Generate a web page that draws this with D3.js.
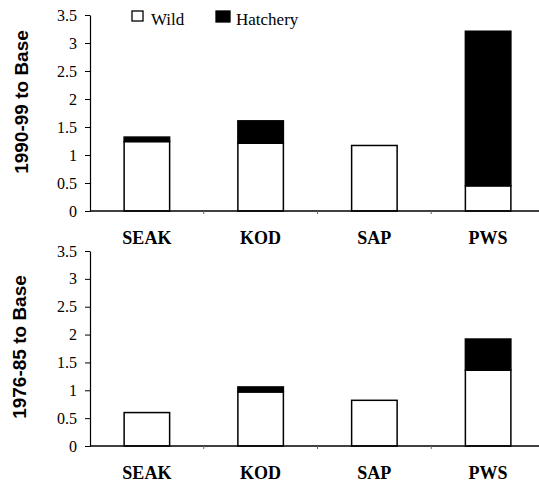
<!DOCTYPE html>
<html>
<head>
<meta charset="utf-8">
<script src="https://cdn.jsdelivr.net/npm/d3@7"></script>
<style>
  body { margin: 0; background: #fff; }
  svg text.serif { font-family: "Liberation Serif", "Times New Roman", Times, serif; }
  svg text.sans { font-family: "Liberation Sans", Arial, Helvetica, sans-serif; }
</style>
</head>
<body>
<div id="main"></div>
<script>
// chart data
const regions = ["SEAK", "KOD", "SAP", "PWS"];
const series = ["Wild", "Hatchery"];
const wild9099 = [1.24, 1.21, 1.17, 0.45];
const hatch9099 = [0.08, 0.40, 0.0, 2.76];
const wild7685 = [0.60, 0.97, 0.82, 1.36];
const hatch7685 = [0.0, 0.09, 0.0, 0.56];
const yTicks = [0, 0.5, 1, 1.5, 2, 2.5, 3, 3.5];

const ctx = {
    w: 539,
    h: 487,
    left: 90,
    right: 545,
    panels: [
        {title: "1990-99 to Base", wild: wild9099, hatch: hatch9099, top: 15, bottom: 211, titleX: 28, titleY: 102},
        {title: "1976-85 to Base", wild: wild7685, hatch: hatch7685, top: 251, bottom: 446, titleX: 26, titleY: 347},
    ],
};

const svg = d3.select("#main").append("svg")
    .attr("width", ctx.w)
    .attr("height", ctx.h);

svg.append("rect").attr("width", ctx.w).attr("height", ctx.h).attr("fill", "#fff");

const x = d3.scaleBand()
    .domain(regions)
    .range([ctx.left, ctx.right])
    .paddingInner(0.6)
    .paddingOuter(0.3);

function drawPanel(p){
    const g = svg.append("g");
    const y = d3.scaleLinear().domain([0, 3.5]).range([p.bottom, p.top]);

    const rows = regions.map((r, i) => ({region: r, Wild: p.wild[i], Hatchery: p.hatch[i]}));
    const stacked = d3.stack().keys(series)(rows);

    // bars
    g.selectAll("g.layer")
        .data(stacked)
        .enter()
        .append("g")
        .attr("class", "layer")
        .attr("fill", d => d.key === "Wild" ? "#fff" : "#000")
        .selectAll("rect")
        .data(d => d.filter(s => s[1] > s[0]))
        .enter()
        .append("rect")
        .attr("x", d => x(d.data.region))
        .attr("width", x.bandwidth())
        .attr("y", d => y(d[1]))
        .attr("height", d => y(d[0]) - y(d[1]))
        .attr("stroke", "#000")
        .attr("stroke-width", 1.5);

    // y axis
    const yAxis = g.append("g")
        .attr("transform", "translate(" + ctx.left + ",0)")
        .call(d3.axisLeft(y).tickValues(yTicks).tickFormat(d3.format("")).tickSize(5).tickSizeOuter(0).tickPadding(8));
    yAxis.attr("font-family", null).attr("font-size", 16);
    yAxis.selectAll("text").attr("class", "serif").attr("fill", "#000");
    yAxis.selectAll("line").attr("stroke", "#000");
    yAxis.select(".domain").attr("stroke", "#000").attr("stroke-width", 1.2);

    // x axis baseline with small ticks at band edges
    g.append("line")
        .attr("x1", ctx.left).attr("x2", ctx.w)
        .attr("y1", p.bottom).attr("y2", p.bottom)
        .attr("stroke", "#000").attr("stroke-width", 1.5);
    const step = x.step();
    g.selectAll("line.xtick")
        .data(regions.slice(1))
        .enter()
        .append("line")
        .attr("class", "xtick")
        .attr("x1", d => x(d) - (step - x.bandwidth()) / 2)
        .attr("x2", d => x(d) - (step - x.bandwidth()) / 2)
        .attr("y1", p.bottom).attr("y2", p.bottom + 3)
        .attr("stroke", "#666");

    // category labels
    g.selectAll("text.cat")
        .data(regions)
        .enter()
        .append("text")
        .attr("class", "serif")
        .attr("x", d => x(d) + x.bandwidth() / 2)
        .attr("y", p.bottom + 33)
        .attr("text-anchor", "middle")
        .attr("font-weight", "bold")
        .attr("font-size", 18)
        .text(d => d);

    // y title
    g.append("text")
        .attr("class", "sans")
        .attr("transform", "translate(" + p.titleX + "," + p.titleY + ") rotate(-90)")
        .attr("text-anchor", "middle")
        .attr("font-weight", "bold")
        .attr("font-size", 19)
        .text(p.title);
}

ctx.panels.forEach(drawPanel);

// legend
const legend = svg.append("g");
const legendItems = [
    {label: "Wild", fill: "#fff", x: 132, y: 11, w: 11, h: 10, tx: 151},
    {label: "Hatchery", fill: "#000", x: 216, y: 11, w: 14, h: 11, tx: 236},
];
legendItems.forEach(function(d){
    legend.append("rect")
        .attr("x", d.x).attr("y", d.y)
        .attr("width", d.w).attr("height", d.h)
        .attr("fill", d.fill)
        .attr("stroke", "#000").attr("stroke-width", 1.3);
    legend.append("text")
        .attr("class", "serif")
        .attr("x", d.tx).attr("y", 25)
        .attr("font-size", 17)
        .text(d.label);
});
</script>
</body>
</html>
